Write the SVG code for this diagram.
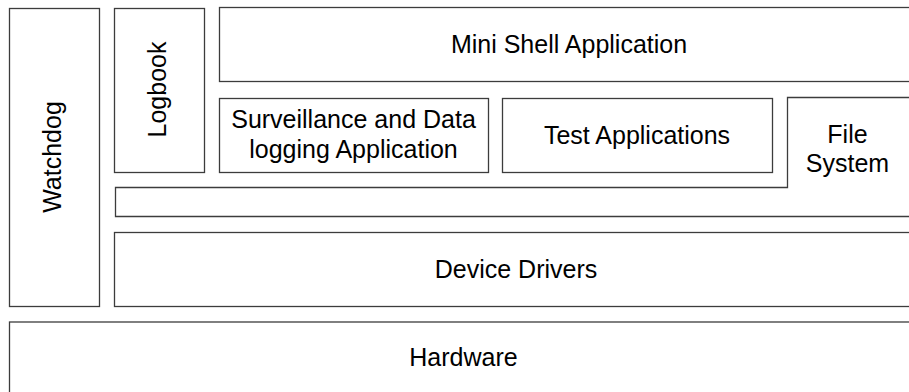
<svg xmlns="http://www.w3.org/2000/svg" width="909" height="392" viewBox="0 0 909 392">
<style>
.box{fill:#ffffff;stroke:#3c3c3c;stroke-width:1.3}
.lbl{font-family:"Liberation Sans",Arial,sans-serif;font-size:25px;fill:#000000;text-anchor:middle}
</style>
<rect width="909" height="392" fill="#ffffff"/>
<g id="watchdog">
<rect class="box" x="9.5" y="8.5" width="90" height="298"/>
<text class="lbl" transform="translate(61,157) rotate(-90)" x="0" y="0">Watchdog</text>
</g>
<g id="logbook">
<rect class="box" x="114.5" y="8.5" width="90" height="164"/>
<text class="lbl" transform="translate(166,89.5) rotate(-90)" x="0" y="0">Logbook</text>
</g>
<g id="mini-shell">
<rect class="box" x="219.5" y="7.5" width="700" height="74"/>
<text class="lbl" x="569" y="53">Mini Shell Application</text>
</g>
<g id="surveillance">
<rect class="box" x="219.5" y="98.5" width="269" height="74"/>
<text class="lbl" x="353.5" y="128">Surveillance and Data</text>
<text class="lbl" x="353.5" y="158">logging Application</text>
</g>
<g id="test-applications">
<rect class="box" x="502.5" y="98.5" width="270" height="74"/>
<text class="lbl" x="637" y="144">Test Applications</text>
</g>
<g id="file-system">
<path class="box" d="M115.5,187.5 H787.5 V97.5 H918 V216.5 H115.5 Z"/>
<text class="lbl" x="847.5" y="143">File</text>
<text class="lbl" x="847.5" y="172">System</text>
</g>
<g id="device-drivers">
<rect class="box" x="114.5" y="232.5" width="804" height="74"/>
<text class="lbl" x="516" y="278">Device Drivers</text>
</g>
<g id="hardware">
<rect class="box" x="9.5" y="322" width="908" height="90"/>
<text class="lbl" x="463.5" y="366">Hardware</text>
</g>
<g id="connectors"/>
</svg>
